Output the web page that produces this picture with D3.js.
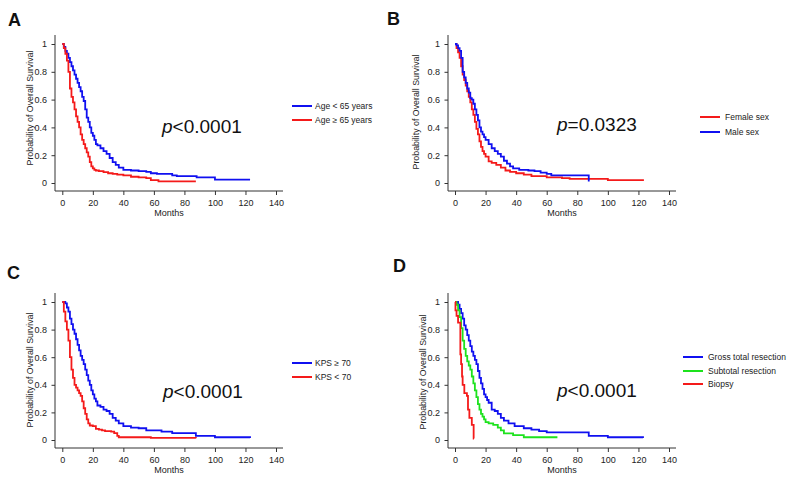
<!DOCTYPE html>
<html><head><meta charset="utf-8">
<script src="https://cdn.jsdelivr.net/npm/d3@7"></script>
<style>
body{margin:0;background:#fff;}
svg{display:block;font-family:"Liberation Sans",Arial,sans-serif;}
</style></head><body>
<svg id="c" width="793" height="484"></svg>
<script>
// ---- data ----
const xTicks = [0,20,40,60,80,100,120,140];
const yTicks = [0,0.2,0.4,0.6,0.8,1];
const yTickLabels = ["0","0.2","0.4","0.6","0.8","1"];
const panelLetters = ["A","B","C","D"];
const pValues = ["<0.0001","=0.0323","<0.0001","<0.0001"];

// Panel A
const ageLt65T = [0,1,2,3,4,5,6,7,8,9,10,11,12,13,14,15,16,17,18,19,20,21,22,23,25,27,29,31,33,35,37,40,45,50,55,58,62,72,75,87,88,100,123];
const ageLt65S = [1,0.98,0.95,0.93,0.90,0.87,0.84,0.81,0.78,0.75,0.72,0.69,0.66,0.62,0.59,0.53,0.47,0.44,0.40,0.36,0.34,0.31,0.28,0.27,0.25,0.23,0.21,0.18,0.15,0.13,0.11,0.095,0.09,0.085,0.08,0.07,0.065,0.055,0.05,0.05,0.04,0.025,0.025];
const ageGe65T = [0,1,2,3,4,5,6,7,8,9,10,11,12,13,14,15,16,17,18,19,20,21,22,24,27,30,33,36,40,45,50,55,58,63,87.5];
const ageGe65S = [1,0.97,0.93,0.88,0.80,0.68,0.62,0.58,0.53,0.48,0.44,0.40,0.35,0.31,0.28,0.25,0.22,0.19,0.15,0.12,0.105,0.095,0.09,0.085,0.078,0.07,0.065,0.06,0.055,0.045,0.04,0.035,0.02,0.012,0.012];
// Panel B
const femaleT = [0,1,2,3,4,5,6,7,8,9,10,11,12,13,14,15,16,17,18,19,20,22,24,27,30,33,36,40,45,50,60,70,75,100,123];
const femaleS = [1,0.97,0.94,0.90,0.84,0.78,0.74,0.70,0.66,0.62,0.58,0.53,0.49,0.44,0.39,0.35,0.30,0.26,0.23,0.21,0.19,0.155,0.145,0.13,0.11,0.09,0.08,0.07,0.06,0.05,0.04,0.035,0.03,0.02,0.015];
const maleT = [0,1,2,3,4,5,6,7,8,9,10,11,12,13,14,15,16,17,18,19,20,22,24,26,28,30,32,34,36,38,42,48,52,56,60,63,87.5,87.5];
const maleS = [1,0.99,0.97,0.95,0.90,0.80,0.76,0.72,0.68,0.65,0.61,0.60,0.57,0.53,0.49,0.45,0.40,0.37,0.35,0.33,0.31,0.28,0.25,0.23,0.21,0.19,0.16,0.14,0.12,0.105,0.095,0.09,0.085,0.075,0.065,0.055,0.055,0.01];
// Panel C
const kpsGe70T = [0,1,2,3,4,5,6,7,8,9,10,11,12,13,14,15,16,17,18,19,20,21,22,23,25,27,29,31,33,35,37,40,45,50,55,65,72,87.5,100,123];
const kpsGe70S = [1,1,0.99,0.96,0.93,0.88,0.84,0.80,0.77,0.73,0.69,0.65,0.61,0.58,0.55,0.51,0.47,0.43,0.40,0.36,0.33,0.30,0.28,0.25,0.24,0.22,0.21,0.19,0.16,0.14,0.12,0.10,0.09,0.085,0.07,0.06,0.05,0.03,0.02,0.015];
const kpsLt70T = [0,1,2,3,4,5,6,7,8,9,10,11,12,13,14,15,16,17,18,20,22,24,26,28,32,34,36,37,58,87.5];
const kpsLt70S = [1,0.93,0.86,0.80,0.72,0.60,0.51,0.45,0.40,0.38,0.36,0.34,0.32,0.28,0.23,0.19,0.15,0.12,0.105,0.10,0.08,0.075,0.07,0.065,0.06,0.05,0.03,0.02,0.015,0.012];
// Panel D
const gtrT = [0,1,2,3,4,5,6,7,8,9,10,11,12,13,14,15,16,17,18,19,20,21,22,24,26,28,30,32,35,39,45,50,55,60,87.5,100,123];
const gtrS = [1,1,0.98,0.95,0.92,0.88,0.83,0.80,0.76,0.72,0.68,0.64,0.61,0.58,0.55,0.50,0.45,0.41,0.37,0.33,0.31,0.29,0.27,0.22,0.21,0.19,0.16,0.14,0.12,0.10,0.085,0.075,0.065,0.055,0.03,0.02,0.015];
const strT = [0,1,2,3,4,5,6,7,8,9,10,11,12,13,14,15,16,17,18,19,20,22,25,28,30,32,38,45,67];
const strS = [1,0.98,0.94,0.89,0.81,0.72,0.66,0.61,0.57,0.54,0.51,0.46,0.41,0.36,0.31,0.26,0.22,0.19,0.17,0.15,0.13,0.12,0.11,0.09,0.07,0.048,0.035,0.02,0.02];
const biopsyT = [0,0.3,1,2,3.5,4,4.6,5,6.1,7.8,8.5,9.4,11,12.2,12.4];
const biopsyS = [1,0.94,0.90,0.85,0.62,0.55,0.46,0.40,0.34,0.32,0.22,0.16,0.11,0.01,0.01];

const BLUE="#1010f0", RED="#f41a1a", GREEN="#1de21d";

const panels = [
  {letter:0, lx:8, ly:26, x0:62.3, x1:276, yTop:44, yBot:183, ax:55, ay:191, tx:30, ty:108,
   legX:292, legTX:315, legY:[106,120], px:162, py:133,
   series:[{name:"Age < 65 years",t:ageLt65T,s:ageLt65S,c:BLUE},{name:"Age \u2265 65 years",t:ageGe65T,s:ageGe65S,c:RED}]},
  {letter:1, lx:387, ly:25, x0:455, x1:669, yTop:44, yBot:183, ax:448, ay:191, tx:416, ty:112,
   legX:700, legTX:725, legY:[117,132], px:557, py:131,
   series:[{name:"Female sex",t:femaleT,s:femaleS,c:RED},{name:"Male sex",t:maleT,s:maleS,c:BLUE}]},
  {letter:2, lx:7, ly:279, x0:62.3, x1:276, yTop:302, yBot:440, ax:55, ay:448, tx:30, ty:370,
   legX:292, legTX:315, legY:[363,377], px:163, py:398,
   series:[{name:"KPS \u2265 70",t:kpsGe70T,s:kpsGe70S,c:BLUE},{name:"KPS < 70",t:kpsLt70T,s:kpsLt70S,c:RED}]},
  {letter:3, lx:393, ly:272, x0:455, x1:669, yTop:302, yBot:440, ax:448, ay:448, tx:423, ty:372,
   legX:683, legTX:708, legY:[357,371,384], px:557, py:397,
   series:[{name:"Gross total resection",t:gtrT,s:gtrS,c:BLUE},{name:"Subtotal resection",t:strT,s:strS,c:GREEN},{name:"Biopsy",t:biopsyT,s:biopsyS,c:RED}]}
];

const svg = d3.select("#c");
const AX="#333";

panels.forEach(p=>{
  const g = svg.append("g");
  const x = d3.scaleLinear().domain([0,140]).range([p.x0,p.x1]);
  const y = d3.scaleLinear().domain([0,1]).range([p.yBot,p.yTop]);

  g.append("text").attr("x",p.lx).attr("y",p.ly).attr("font-size",18).attr("font-weight","bold")
    .attr("fill","#111").text(panelLetters[p.letter]);

  // y axis
  const ya = g.append("g").attr("transform",`translate(${p.ax},0)`);
  ya.call(d3.axisLeft(y).tickValues(d3.range(0,1.01,0.1)).tickSize(2.5).tickFormat(""));
  ya.call(d3.axisLeft(y).tickValues(yTicks).tickSize(3.5).tickPadding(4.5).tickFormat((d,i)=>yTickLabels[i]));
  ya.selectAll(".domain").remove();
  ya.append("line").attr("x1",0).attr("x2",0).attr("y1",p.yTop-9).attr("y2",p.ay).attr("stroke",AX);
  ya.selectAll("line").attr("stroke",AX);
  ya.selectAll("text").attr("font-size",9).attr("fill","#222").attr("font-family","Liberation Sans, Arial, sans-serif");

  // x axis
  const xa = g.append("g").attr("transform",`translate(0,${p.ay})`);
  xa.call(d3.axisBottom(x).tickValues(d3.range(0,141,10)).tickSize(2.5).tickFormat(""));
  xa.call(d3.axisBottom(x).tickValues(xTicks).tickSize(4).tickPadding(5).tickFormat(d3.format("d")));
  xa.selectAll(".domain").remove();
  xa.append("line").attr("x1",p.ax).attr("x2",p.x1+7).attr("y1",0).attr("y2",0).attr("stroke",AX);
  xa.selectAll("line").attr("stroke",AX);
  xa.selectAll("text").attr("font-size",9).attr("fill","#222").attr("font-family","Liberation Sans, Arial, sans-serif");

  g.append("text").attr("x",(p.ax+p.x1+7)/2).attr("y",p.ay+25).attr("text-anchor","middle")
    .attr("font-size",9).attr("fill","#222").text("Months");
  g.append("text").attr("transform",`translate(${p.tx+3},${p.ty}) rotate(-90)`).attr("text-anchor","middle")
    .attr("font-size",8.8).attr("fill","#222").text("Probability of Overall Survival");

  // curves
  const line = d3.line().x(d=>x(d[0])).y(d=>y(d[1])).curve(d3.curveStepAfter);
  p.series.forEach(sr=>{
    const pts = sr.t.map((t,i)=>[t,sr.s[i]]);
    g.append("path").attr("d",line(pts)).attr("fill","none").attr("stroke",sr.c)
      .attr("stroke-width",1.8);
  });

  // legend
  p.series.forEach((sr,i)=>{
    g.append("line").attr("x1",p.legX).attr("x2",p.legX+20).attr("y1",p.legY[i]).attr("y2",p.legY[i])
      .attr("stroke",sr.c).attr("stroke-width",2);
    g.append("text").attr("x",p.legTX).attr("y",p.legY[i]+3).attr("font-size",8.5).attr("fill","#222").text(sr.name);
  });

  // p-value
  const pt = g.append("text").attr("x",p.px).attr("y",p.py).attr("font-size",19).attr("fill","#111");
  pt.append("tspan").attr("font-style","italic").text("p");
  pt.append("tspan").text(pValues[p.letter]);
});
</script>
</body></html>
